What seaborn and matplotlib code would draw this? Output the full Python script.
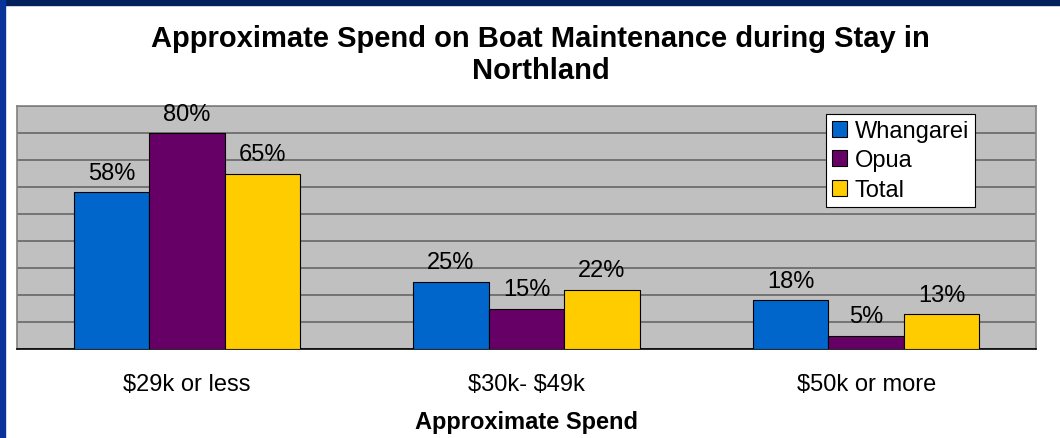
import matplotlib
matplotlib.use('Agg')
import numpy as np
import pandas as pd
import seaborn as sns
import matplotlib.pyplot as plt
from matplotlib.patches import Rectangle

CATS = ['$29k or less', '$30k- $49k', '$50k or more']
SERIES = ['Whangarei', 'Opua', 'Total']
WHANGAREI = [58, 25, 18]
OPUA = [80, 15, 5]
TOTAL = [65, 22, 13]
CLRS = ['#0066CC', '#660066', '#FFCC00']

df = pd.DataFrame({
    'spend': CATS * 3,
    'site': [s for s in SERIES for _ in CATS],
    'pct': WHANGAREI + OPUA + TOTAL,
})

sns.set_style('white')
plt.rcParams['font.family'] = ['Liberation Sans', 'DejaVu Sans']
plt.rcParams['text.parse_math'] = False
plt.rcParams['text.color'] = 'black'
plt.rcParams['axes.labelcolor'] = 'black'
plt.rcParams['xtick.color'] = 'black'

fig = plt.figure(figsize=(10.6, 4.39), dpi=100)
fig.patches.append(Rectangle((0, 433 / 439), 1, 6 / 439, transform=fig.transFigure,
                             color='#00205E', zorder=0))
fig.patches.append(Rectangle((0, 0), 5 / 1060, 1, transform=fig.transFigure,
                             color='#0A3399', zorder=0))
ax = fig.add_axes([17 / 1060, 89 / 439, 1019 / 1060, 243 / 439])
ax.set_facecolor('#C0C0C0')

sns.barplot(data=df, x='spend', y='pct', hue='site', palette=CLRS, width=0.667,
            gap=0, edgecolor='black', linewidth=0.8, saturation=1, ax=ax, zorder=3)
for cont in ax.containers:
    ax.bar_label(cont, fmt='%d%%', padding=6, fontsize=17, zorder=4)

ax.set_ylim(0, 90)
ax.set_xlim(-0.5, 2.5)
ax.set_yticks(np.arange(0, 91, 10))
ax.set_yticklabels([])
ax.tick_params(axis='y', length=0)
ax.grid(axis='y', color='#666666', linewidth=1.2, zorder=1)
ax.set_axisbelow(True)
ax.set_xticks([-0.5, 0.5, 1.5, 2.5], minor=True)
ax.tick_params(axis='x', which='minor', length=6, width=1, color='black', direction='out')
ax.tick_params(axis='x', which='major', length=0, labelsize=17, pad=17)
for s in ('left', 'top', 'right'):
    ax.spines[s].set_color('#808080')
    ax.spines[s].set_linewidth(1.2)
ax.spines['bottom'].set_color('black')
ax.spines['bottom'].set_linewidth(1.2)
ax.set_ylabel('')
ax.set_xlabel('Approximate Spend', fontsize=17, fontweight='bold', labelpad=11)

leg = ax.legend(loc='upper left', bbox_to_anchor=(0.794, 0.967), borderaxespad=0,
                fancybox=False, edgecolor='black', framealpha=1, fontsize=17,
                handlelength=0.65, handleheight=0.65, handletextpad=0.3,
                labelspacing=0.32, borderpad=0.25)
leg.get_frame().set_linewidth(0.8)

fig.suptitle('Approximate Spend on Boat Maintenance during Stay in\nNorthland',
             x=0.51, y=1 - 25 / 439, va='top', fontsize=21, fontweight='bold',
             linespacing=1.2)

fig.savefig('out.png', dpi=100)
